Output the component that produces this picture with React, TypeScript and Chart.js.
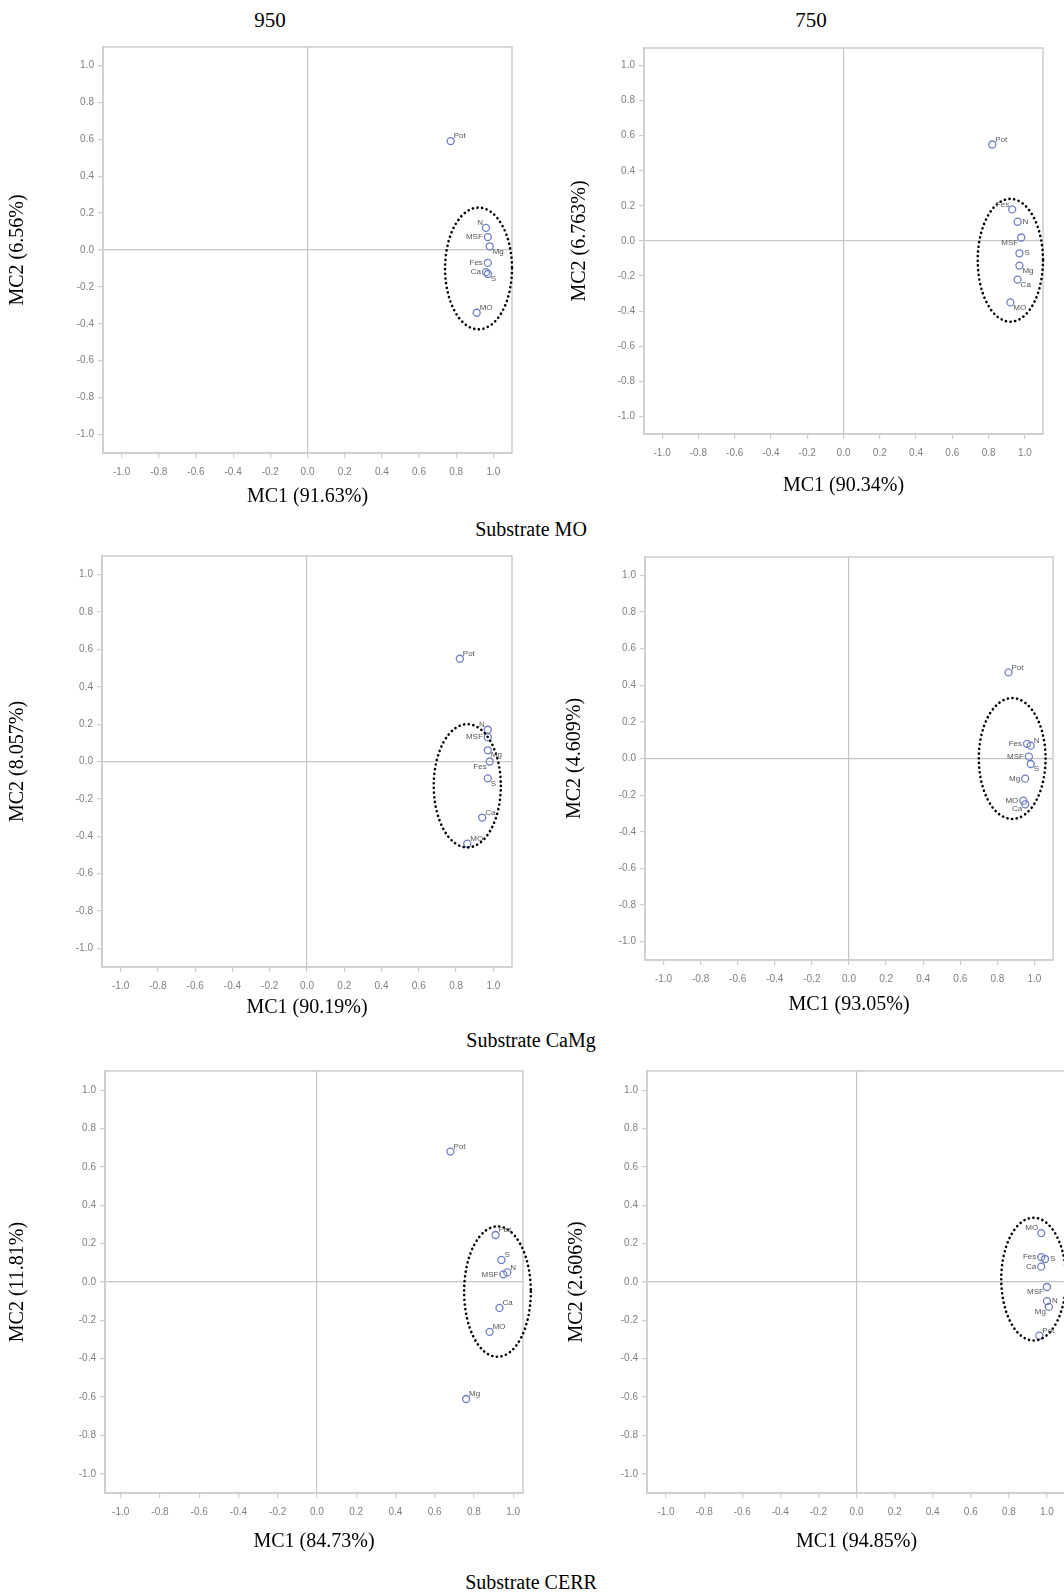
import React, { useEffect, useRef } from "react";
import { Chart, registerables } from "chart.js";

Chart.register(...registerables);

// ---------- shared tick values ----------
const TICKS = [-1, -0.8, -0.6, -0.4, -0.2, 0, 0.2, 0.4, 0.6, 0.8, 1];

// ---------- 950 / Substrate MO ----------
const VARS_950_MO = ["Pot", "N", "MSF", "Mg", "Fes", "Ca", "S", "MO"];
const X_950_MO = [0.77, 0.96, 0.97, 0.98, 0.97, 0.96, 0.97, 0.91];
const Y_950_MO = [0.59, 0.12, 0.07, 0.02, -0.07, -0.12, -0.13, -0.34];
const POS_950_MO = ["ur", "ul", "l", "dr", "l", "l", "dr", "ur"];

// ---------- 750 / Substrate MO ----------
const VARS_750_MO = ["Pot", "Fes", "N", "MSF", "S", "Mg", "Ca", "MO"];
const X_750_MO = [0.82, 0.93, 0.96, 0.98, 0.97, 0.97, 0.96, 0.92];
const Y_750_MO = [0.55, 0.18, 0.11, 0.02, -0.07, -0.14, -0.22, -0.35];
const POS_750_MO = ["ur", "ul", "r", "dl", "r", "dr", "dr", "dr"];

// ---------- 950 / Substrate CaMg ----------
const VARS_950_CAMG = ["Pot", "N", "MSF", "Mg", "Fes", "S", "Ca", "MO"];
const X_950_CAMG = [0.82, 0.97, 0.97, 0.97, 0.98, 0.97, 0.94, 0.86];
const Y_950_CAMG = [0.55, 0.17, 0.13, 0.06, 0.0, -0.09, -0.3, -0.44];
const POS_950_CAMG = ["ur", "ul", "l", "dr", "dl", "dr", "ur", "ur"];

// ---------- 750 / Substrate CaMg ----------
const VARS_750_CAMG = ["Pot", "Fes", "N", "MSF", "S", "Mg", "MO", "Ca"];
const X_750_CAMG = [0.86, 0.96, 0.98, 0.97, 0.98, 0.95, 0.94, 0.95];
const Y_750_CAMG = [0.47, 0.08, 0.07, 0.01, -0.03, -0.11, -0.23, -0.25];
const POS_750_CAMG = ["ur", "l", "ur", "l", "dr", "l", "l", "dl"];

// ---------- 950 / Substrate CERR ----------
const VARS_950_CERR = ["Pot", "Fes", "S", "MSF", "N", "Ca", "MO", "Mg"];
const X_950_CERR = [0.68, 0.91, 0.94, 0.95, 0.97, 0.93, 0.88, 0.76];
const Y_950_CERR = [0.68, 0.245, 0.115, 0.04, 0.05, -0.135, -0.26, -0.61];
const POS_950_CERR = ["ur", "ur", "ur", "l", "ur", "ur", "ur", "ur"];

// ---------- 750 / Substrate CERR ----------
const VARS_750_CERR = ["MO", "Fes", "S", "Ca", "MSF", "N", "Mg", "Pot"];
const X_750_CERR = [0.97, 0.97, 0.99, 0.97, 1.0, 1.0, 1.01, 0.96];
const Y_750_CERR = [0.255, 0.13, 0.12, 0.08, -0.026, -0.1, -0.13, -0.28];
const POS_750_CERR = ["ul", "l", "r", "l", "dl", "r", "dl", "ur"];

// ---------- axis titles ----------
const X_TITLES = ["MC1 (91.63%)", "MC1 (90.34%)", "MC1 (90.19%)", "MC1 (93.05%)", "MC1 (84.73%)", "MC1 (94.85%)"];
const Y_TITLES = ["MC2 (6.56%)", "MC2 (6.763%)", "MC2 (8.057%)", "MC2 (4.609%)", "MC2 (11.81%)", "MC2 (2.606%)"];

// ---------- highlighted clusters (data units: cx, cy, rx, ry) ----------
const CLUSTERS = [
  [0.92, -0.1, 0.18, 0.33],
  [0.92, -0.11, 0.18, 0.35],
  [0.86, -0.13, 0.18, 0.33],
  [0.88, 0.0, 0.18, 0.33],
  [0.92, -0.05, 0.17, 0.34],
  [0.93, 0.015, 0.17, 0.32],
];

// axis ranges [xmin, xmax, ymin, ymax]
const RANGES = [
  [-1.1, 1.1, -1.1, 1.1],
  [-1.1, 1.1, -1.1, 1.1],
  [-1.1, 1.1, -1.1, 1.1],
  [-1.1, 1.1, -1.1, 1.1],
  [-1.08, 1.05, -1.1, 1.1],
  [-1.1, 1.1, -1.1, 1.1],
];

// layout of each panel on the page: frame L,T,R,B, y-title x, x-title y
const LAYOUT = [
  { L: 103, T: 47, R: 512, B: 453, yt: 18, xt: 497 },
  { L: 644, T: 48, R: 1043, B: 434, yt: 580, xt: 486 },
  { L: 102, T: 556, R: 512, B: 967, yt: 18, xt: 1008 },
  { L: 645, T: 557, R: 1053, B: 960, yt: 575, xt: 1005 },
  { L: 105, T: 1071, R: 523, B: 1493, yt: 18, xt: 1542 },
  { L: 647, T: 1071, R: 1066, B: 1493, yt: 577, xt: 1542 },
];

const PANEL_DATA = [
  { names: VARS_950_MO, xs: X_950_MO, ys: Y_950_MO, pos: POS_950_MO },
  { names: VARS_750_MO, xs: X_750_MO, ys: Y_750_MO, pos: POS_750_MO },
  { names: VARS_950_CAMG, xs: X_950_CAMG, ys: Y_950_CAMG, pos: POS_950_CAMG },
  { names: VARS_750_CAMG, xs: X_750_CAMG, ys: Y_750_CAMG, pos: POS_750_CAMG },
  { names: VARS_950_CERR, xs: X_950_CERR, ys: Y_950_CERR, pos: POS_950_CERR },
  { names: VARS_750_CERR, xs: X_750_CERR, ys: Y_750_CERR, pos: POS_750_CERR },
];

const TITLE_FONT = "'Liberation Serif', 'Times New Roman', serif";
const SANS = "'Liberation Sans', Arial, sans-serif";
const FRAME = "#cdcdcd";

function Panel({ idx }: { idx: number }) {
  const ref = useRef<HTMLCanvasElement>(null);
  const lay = LAYOUT[idx];
  const cl = lay.yt - 12;
  const ct = lay.T - 14;
  const cw = lay.R + 14 - cl;
  const ch = lay.xt + 12 - ct;

  useEffect(() => {
    const d = PANEL_DATA[idx];
    const [xmin, xmax, ymin, ymax] = RANGES[idx];
    const cluster = CLUSTERS[idx];
    const canvas = ref.current!;

    const framePlugin = {
      id: "frame" + idx,
      beforeDatasetsDraw(chart: any) {
        const { ctx, chartArea: a } = chart;
        ctx.save();
        ctx.strokeStyle = FRAME;
        ctx.lineWidth = 1.5;
        ctx.strokeRect(a.left, a.top, a.right - a.left, a.bottom - a.top);
        ctx.restore();
      },
    };

    const labelPlugin = {
      id: "labels" + idx,
      afterDatasetsDraw(chart: any) {
        const { ctx } = chart;
        const xs = chart.scales.x;
        const ys = chart.scales.y;
        ctx.save();
        ctx.font = `8px ${SANS}`;
        ctx.fillStyle = "#555";
        d.names.forEach((n: string, i: number) => {
          const px = xs.getPixelForValue(d.xs[i]);
          const py = ys.getPixelForValue(d.ys[i]);
          const p = d.pos[i];
          let tx = px, ty = py;
          if (p === "ur") { ctx.textAlign = "left"; ctx.textBaseline = "bottom"; tx = px + 3; ty = py - 1; }
          else if (p === "ul") { ctx.textAlign = "right"; ctx.textBaseline = "bottom"; tx = px - 3; ty = py - 1; }
          else if (p === "l") { ctx.textAlign = "right"; ctx.textBaseline = "middle"; tx = px - 5; }
          else if (p === "r") { ctx.textAlign = "left"; ctx.textBaseline = "middle"; tx = px + 5; }
          else if (p === "dr") { ctx.textAlign = "left"; ctx.textBaseline = "top"; tx = px + 3; ty = py + 1; }
          else { ctx.textAlign = "right"; ctx.textBaseline = "top"; tx = px - 3; ty = py + 1; }
          ctx.fillText(n, tx, ty);
        });
        ctx.restore();
      },
    };

    const ellipsePlugin = {
      id: "ellipse" + idx,
      afterDatasetsDraw(chart: any) {
        const { ctx } = chart;
        const xs = chart.scales.x;
        const ys = chart.scales.y;
        const [cx, cy, rx, ry] = cluster;
        const pcx = xs.getPixelForValue(cx);
        const pcy = ys.getPixelForValue(cy);
        const prx = Math.abs(xs.getPixelForValue(cx + rx) - pcx);
        const pry = Math.abs(ys.getPixelForValue(cy + ry) - pcy);
        ctx.save();
        ctx.strokeStyle = "#000";
        ctx.lineWidth = 2.6;
        ctx.lineCap = "round";
        ctx.setLineDash([0.1, 4.6]);
        ctx.beginPath();
        ctx.ellipse(pcx, pcy, prx, pry, 0, 0, Math.PI * 2);
        ctx.stroke();
        ctx.restore();
      },
    };

    const axisCommon = (title: string) => ({
      type: "linear" as const,
      afterBuildTicks: (s: any) => {
        s.ticks = TICKS.map((v) => ({ value: v }));
      },
      ticks: {
        callback: (v: any) => Number(v).toFixed(1),
        font: { family: SANS, size: 10 },
        color: "#808080",
        autoSkip: false,
        maxRotation: 0,
      },
      grid: {
        color: (c: any) => (c.tick && c.tick.value === 0 ? "#c6c6c6" : "rgba(0,0,0,0)"),
        tickColor: FRAME,
        tickLength: 5,
        lineWidth: 1.2,
      },
      border: { display: true, color: FRAME, width: 1.5 },
      title: {
        display: true,
        text: title,
        font: { family: TITLE_FONT, size: 20 },
        color: "#000",
        padding: 0,
      },
    });

    const xAxis: any = axisCommon(X_TITLES[idx]);
    xAxis.min = xmin;
    xAxis.max = xmax;
    xAxis.position = "bottom";
    xAxis.ticks.padding = 8;
    xAxis.afterFit = (s: any) => {
      s.height = ct + ch - lay.B;
    };
    const yAxis: any = axisCommon(Y_TITLES[idx]);
    yAxis.min = ymin;
    yAxis.max = ymax;
    yAxis.position = "left";
    yAxis.ticks.padding = 4;
    yAxis.afterFit = (s: any) => {
      s.width = lay.L - cl;
    };

    const chart = new Chart(canvas, {
      type: "scatter",
      data: {
        datasets: [
          {
            data: d.xs.map((x: number, i: number) => ({ x, y: d.ys[i] })),
            pointStyle: "circle",
            pointRadius: 3.5,
            pointBorderWidth: 1.3,
            borderColor: "#6f7fc2",
            backgroundColor: "rgba(255,255,255,0)",
          },
        ],
      },
      options: {
        responsive: false,
        maintainAspectRatio: false,
        animation: false,
        devicePixelRatio: 1,
        layout: { padding: { left: 0, top: lay.T - ct, right: cl + cw - lay.R, bottom: 0 } },
        plugins: { legend: { display: false }, tooltip: { enabled: false } },
        scales: { x: xAxis, y: yAxis },
      },
      plugins: [framePlugin, ellipsePlugin, labelPlugin],
    });
    return () => chart.destroy();
  }, []);

  return (
    <canvas
      ref={ref}
      width={cw}
      height={ch}
      style={{ position: "absolute", left: cl, top: ct, width: cw, height: ch }}
    />
  );
}

const TEXTS = [
  { t: "950", x: 270, y: 20, s: 21 },
  { t: "750", x: 811, y: 20, s: 21 },
  { t: "Substrate MO", x: 531, y: 529, s: 20 },
  { t: "Substrate CaMg", x: 531, y: 1040, s: 20 },
  { t: "Substrate CERR", x: 531, y: 1582, s: 20 },
];

export default function App() {
  return (
    <div
      style={{
        position: "fixed",
        left: 0,
        top: 0,
        width: 1064,
        height: 1596,
        overflow: "hidden",
        background: "#fff",
      }}
    >
      {LAYOUT.map((_, i) => (
        <Panel key={i} idx={i} />
      ))}
      {TEXTS.map((o, i) => (
        <div
          key={"t" + i}
          style={{
            position: "absolute",
            left: o.x,
            top: o.y,
            transform: "translate(-50%, -50%)",
            fontFamily: TITLE_FONT,
            fontSize: o.s,
            color: "#000",
            whiteSpace: "nowrap",
            lineHeight: 1,
          }}
        >
          {o.t}
        </div>
      ))}
    </div>
  );
}
